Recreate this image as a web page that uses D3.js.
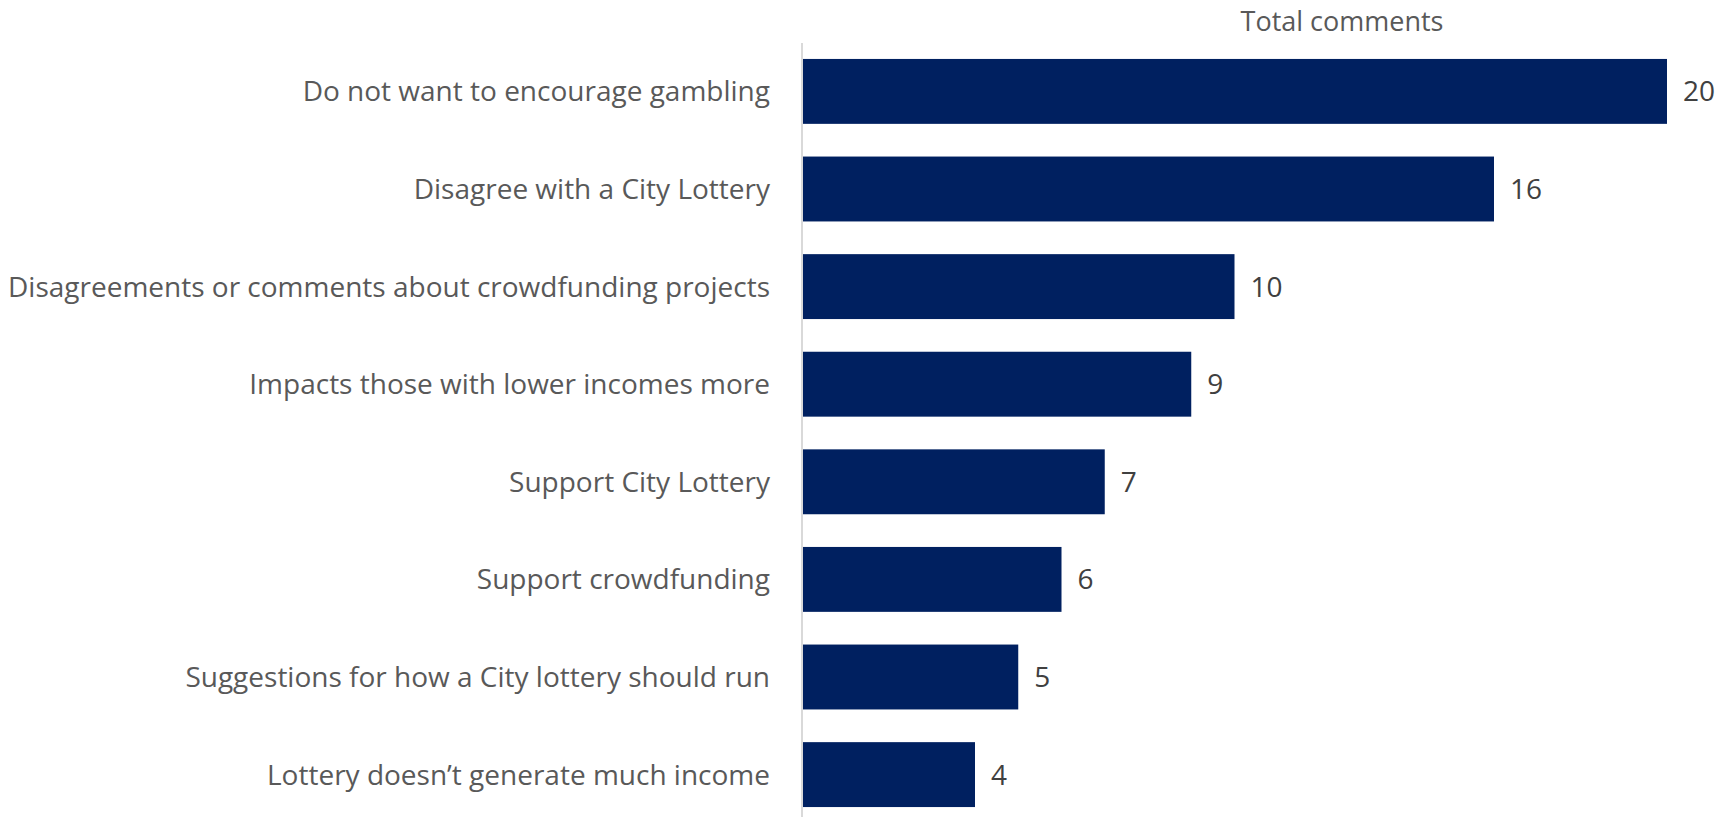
<!DOCTYPE html>
<html>
<head>
<meta charset="utf-8">
<script src="https://cdn.jsdelivr.net/npm/d3@7"></script>
<style>
  body { margin: 0; background: #fff; }
  text { font-family: "Open Sans", sans-serif; }
</style>
</head>
<body>
<div id="chart_area"></div>
<script>
var width = 1721
var height = 817

// Data
var categories = [
  "Do not want to encourage gambling",
  "Disagree with a City Lottery",
  "Disagreements or comments about crowdfunding projects",
  "Impacts those with lower incomes more",
  "Support City Lottery",
  "Support crowdfunding",
  "Suggestions for how a City lottery should run",
  "Lottery doesn\u2019t generate much income"
]
var values = [20, 16, 10, 9, 7, 6, 5, 4]
var seriesName = "Total comments"

var axisX = 802
var fontSize = 28

var svg = d3.select("#chart_area")
  .append("svg")
  .attr("width", width)
  .attr("height", height)

var x = d3.scaleLinear()
  .domain([0, 20])
  .range([axisX, 1667])

var y = d3.scaleBand()
  .domain(categories)
  .range([42.6, 823.4])
  .paddingInner(0.335)
  .paddingOuter(0.1675)

// bars
svg.selectAll("rect.bar")
  .data(values)
  .enter()
  .append("rect")
  .attr("class", "bar")
  .attr("x", x(0))
  .attr("y", (d, i) => y(categories[i]))
  .attr("width", d => x(d) - x(0))
  .attr("height", y.bandwidth())
  .attr("fill", "#002060")

// vertical axis line
svg.append("line")
  .attr("x1", axisX)
  .attr("x2", axisX)
  .attr("y1", 43)
  .attr("y2", height)
  .attr("stroke", "#d9d9d9")
  .attr("stroke-width", 2)

// category labels
svg.selectAll("text.cat")
  .data(categories)
  .enter()
  .append("text")
  .attr("class", "cat")
  .attr("x", 770)
  .attr("y", d => y(d) + y.bandwidth() / 2)
  .attr("dy", "0.36em")
  .attr("text-anchor", "end")
  .attr("fill", "#595959")
  .style("font-size", fontSize + "px")
  .text(d => d)

// value labels
svg.selectAll("text.val")
  .data(values)
  .enter()
  .append("text")
  .attr("class", "val")
  .attr("x", d => x(d) + 16)
  .attr("y", (d, i) => y(categories[i]) + y.bandwidth() / 2)
  .attr("dy", "0.36em")
  .attr("fill", "#404040")
  .style("font-size", fontSize + "px")
  .text(d => d)

// series title
svg.append("text")
  .attr("x", 1342)
  .attr("y", 31)
  .attr("text-anchor", "middle")
  .attr("fill", "#595959")
  .style("font-size", "27px")
  .text(seriesName)
</script>
</body>
</html>
